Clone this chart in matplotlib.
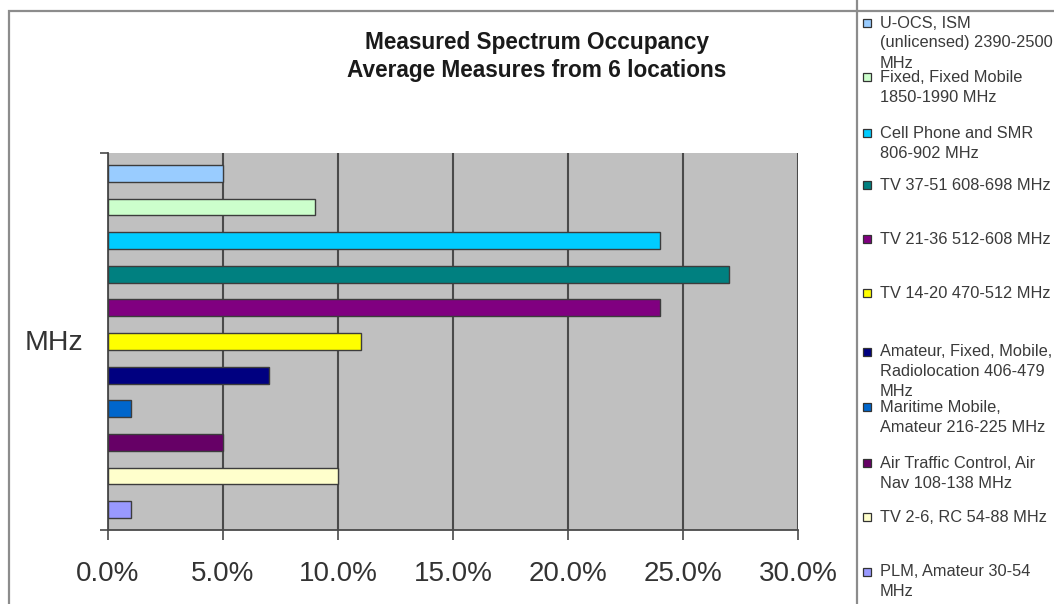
import matplotlib.pyplot as plt
from matplotlib.patches import Rectangle
from matplotlib.lines import Line2D
from matplotlib.ticker import FuncFormatter

plt.rcParams['font.family'] = ['Liberation Sans', 'DejaVu Sans']

# bands, top to bottom as drawn
bands = [
    "U-OCS, ISM\n(unlicensed) 2390-2500\nMHz",
    "Fixed, Fixed Mobile\n1850-1990 MHz",
    "Cell Phone and SMR\n806-902 MHz",
    "TV 37-51 608-698 MHz",
    "TV 21-36 512-608 MHz",
    "TV 14-20 470-512 MHz",
    "Amateur, Fixed, Mobile,\nRadiolocation 406-479\nMHz",
    "Maritime Mobile,\nAmateur 216-225 MHz",
    "Air Traffic Control, Air\nNav 108-138 MHz",
    "TV 2-6, RC 54-88 MHz",
    "PLM, Amateur 30-54\nMHz",
]
occupancy = [5, 9, 24, 27, 24, 11, 7, 1, 5, 10, 1]  # percent
colors = ["#99ccff", "#ccffcc", "#00ccff", "#008080", "#800080", "#ffff00",
          "#000080", "#0066cc", "#660066", "#ffffcc", "#9999ff"]
xticks = [0, 5, 10, 15, 20, 25, 30]

W, H = 1054, 604
fig = plt.figure(figsize=(W / 100, H / 100), dpi=100)

def fx(px):
    return px / W

def fy(py):
    return 1 - py / H

# outer chart frame and legend divider
fig.add_artist(Rectangle((fx(9), fy(H + 20)), fx(W + 20), (H + 9) / H,
                         transform=fig.transFigure, fill=False,
                         edgecolor="#8c8c8c", linewidth=1.6))
fig.add_artist(Line2D([fx(857), fx(857)], [0, 1], transform=fig.transFigure,
                      color="#8c8c8c", linewidth=1.6))

ax = fig.add_axes([fx(108), fy(530), fx(798 - 108), (530 - 153) / H])
ax.set_facecolor("#c0c0c0")

pos = list(range(len(bands)))
ax.barh(pos, occupancy, height=0.5, color=colors, edgecolor="#3c3c3c",
        linewidth=1.0, zorder=3)

ax.set_xlim(0, 30)
ax.set_ylim(len(bands) - 1 + 0.61, -0.61)
ax.set_xticks(xticks)
ax.xaxis.set_major_formatter(FuncFormatter(lambda v, p: f"{v:.1f}%"))
ax.grid(axis="x", color="#4a4a4a", linewidth=1.5, zorder=1)
ax.set_yticks([-0.61, len(bands) - 1 + 0.61])
ax.set_yticklabels([])
ax.tick_params(axis="x", length=7, width=1.2, color="#4a4a4a", pad=15,
               labelsize=20, labelcolor="#333333")
ax.tick_params(axis="y", length=6, width=1.2, color="#4a4a4a")
for side in ["top", "right"]:
    ax.spines[side].set_visible(False)
for side in ["left", "bottom"]:
    ax.spines[side].set_color("#4a4a4a")
    ax.spines[side].set_linewidth(1.3)

fig.text(fx(537), fy(42), "Measured Spectrum Occupancy", ha="center",
         va="center", fontsize=16.3, fontweight="bold", color="#1a1a1a")
fig.text(fx(537), fy(70), "Average Measures from 6 locations", ha="center",
         va="center", fontsize=16.3, fontweight="bold", color="#1a1a1a")
fig.text(fx(54), fy(343), "MHz", ha="center", va="center", fontsize=20.5,
         color="#333333")

# legend entries, laid out by hand
legend_y = [23, 77, 133, 185, 239, 293, 352, 407, 463, 517, 572]
for label, c, y0 in zip(bands, colors, legend_y):
    fig.add_artist(Rectangle((fx(863), fy(y0 + 4)), fx(8), 8 / H,
                             transform=fig.transFigure, facecolor=c,
                             edgecolor="#333333", linewidth=0.9))
    for i, line in enumerate(label.split("\n")):
        fig.text(fx(880), fy(y0 + 20 * i), line, ha="left", va="center",
                 fontsize=11.8, color="#3a3a3a")

fig.savefig("out.png", dpi=100)
